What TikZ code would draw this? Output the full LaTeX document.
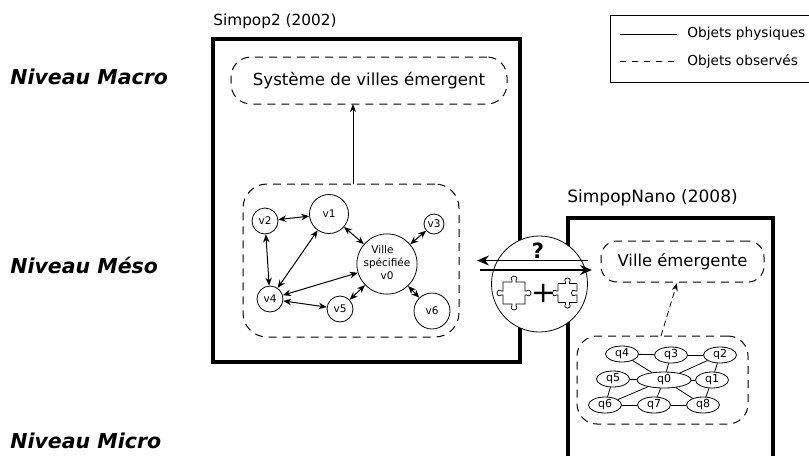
\documentclass[tikz,border=0pt]{standalone}
\usepackage{fontspec}
\setmainfont{DejaVu Sans}
\usetikzlibrary{arrows.meta, shapes.geometric}

\begin{document}
\begin{tikzpicture}[x=1pt, y=-1pt, line width=0.8pt]
\tikzstyle{level label}=[anchor=west, inner sep=0pt, font=\fontsize{20.5}{24}\selectfont\bfseries\itshape];
\tikzstyle{model label}=[anchor=west, inner sep=0pt, font=\fontsize{15.3}{18}\selectfont];
\tikzstyle{legend label}=[anchor=west, inner sep=0pt, font=\fontsize{13.7}{16}\selectfont];
\tikzstyle{model box}=[line width=4pt, line join=miter];
\tikzstyle{observed}=[draw, line width=1pt, rounded corners=20pt, dash pattern=on 8pt off 6pt, inner sep=0pt];
\tikzstyle{city}=[circle, draw, fill=white, inner sep=0pt, font=\fontsize{10.5}{12}\selectfont];
\tikzstyle{quarter}=[ellipse, draw, fill=white, inner sep=0pt, minimum width=33pt, minimum height=16pt, font=\fontsize{11}{12}\selectfont];
\tikzstyle{exchange}=[line width=1.2pt, -{Stealth[length=12pt, width=10pt]}];
\tikzstyle{city link}=[line width=1pt, {Stealth[length=8pt, width=6.5pt]}-{Stealth[length=8pt, width=6.5pt]}];
\tikzstyle{emerge}=[-{Stealth[length=8pt, width=6pt]}];

\useasboundingbox (0,0) rectangle (809,456);

% Levels
\node[level label] (macro) at (10,77) {Niveau Macro};
\node[level label] (meso) at (10,265) {Niveau Méso};
\node[level label] (micro) at (10,441) {Niveau Micro};

% Legend
\draw[line width=0.9pt] (809,15) -- (610,15) -- (610,82) -- (809,82);
\coordinate (solidA) at (620,34);
\coordinate (solidB) at (677,34);
\coordinate (dashA) at (620,61);
\coordinate (dashB) at (677,61);
\draw (solidA) -- (solidB);
\draw[dash pattern=on 6pt off 6pt] (dashA) -- (dashB);
\node[legend label] (physical) at (687,34) {Objets physiques};
\node[legend label] (observedtext) at (687,61) {Objets observés};

% Simpop2
\node[model label] (simpoptitle) at (213,21) {Simpop2 (2002)};
\draw[model box] (213,39) rectangle (520,362);
\node[observed, minimum width=276pt, minimum height=47pt, font=\fontsize{16.6}{20}\selectfont] (system) at (369,80.5) {Système de villes émergent};
\node[observed, minimum width=216pt, minimum height=153pt, rounded corners=24pt] (cities) at (351,260.5) {};
\coordinate (citiesTop) at (353,184);
\coordinate (systemBottom) at (353,104);
\draw[emerge] (citiesTop) -- (systemBottom);

\node[city, minimum size=58pt] (v0) at (387,264) {\begin{tabular}{@{}c@{}}Ville\hspace*{9pt}\\[1pt]spécifiée\\[1pt]v0\end{tabular}};
\node[city, minimum size=39pt] (v1) at (329,214) {v1};
\node[city, minimum size=26pt] (v2) at (265,221) {v2};
\node[city, minimum size=20pt] (v3) at (434,224) {v3};
\node[city, minimum size=26pt] (v4) at (270,299) {v4};
\node[city, minimum size=26pt] (v5) at (340,309) {v5};
\node[city, minimum size=36pt] (v6) at (432,311) {v6};

\foreach \a/\b in {v1/v2, v1/v0, v1/v4, v2/v4, v0/v3, v0/v4, v0/v5, v0/v6, v4/v5}
    \draw[city link] (\a) -- (\b);

% SimpopNano
\node[model label, font=\fontsize{17}{20}\selectfont] (nanotitle) at (567,198) {SimpopNano (2008)};
\draw[model box] (567.5,456) -- (567.5,218) -- (773,218) -- (773,456);
\node[observed, minimum width=163pt, minimum height=41pt, rounded corners=16pt, font=\fontsize{16.4}{20}\selectfont] (city) at (682.5,261.5) {Ville émergente};
\node[observed, minimum width=171pt, minimum height=88pt, rounded corners=20pt] (quarters) at (662.5,380) {};
\coordinate (quartersTop) at (661,336);
\coordinate (cityBottom) at (677,283);
\draw[emerge, dash pattern=on 6pt off 4pt] (quartersTop) -- (cityBottom);

\node[quarter, minimum width=54pt] (q0) at (664,380) {q0};
\node[quarter] (q1) at (712,380) {q1};
\node[quarter] (q2) at (720,355) {q2};
\node[quarter] (q3) at (671,355) {q3};
\node[quarter] (q4) at (622,354) {q4};
\node[quarter] (q5) at (613,379) {q5};
\node[quarter] (q6) at (605,405) {q6};
\node[quarter] (q7) at (654,405) {q7};
\node[quarter] (q8) at (703,405) {q8};

\foreach \a/\b in {q4/q3, q3/q2, q4/q0, q3/q0, q2/q0, q2/q1, q5/q0, q0/q1, q5/q6, q6/q0, q0/q7, q0/q8, q1/q8, q6/q7, q7/q8}
    \draw (\a) -- (\b);

% Link between the two models
\node[circle, draw, fill=white, minimum size=96pt, inner sep=0pt] (bridge) at (539.5,284) {};
\node[inner sep=0pt, font=\fontsize{21}{24}\selectfont\bfseries] (question) at (538,251) {?};
\coordinate (upA) at (588,260.5);
\coordinate (upB) at (477,260.5);
\coordinate (downA) at (480,270);
\coordinate (downB) at (592,270);
\draw[exchange] (upA) -- (upB);
\draw[exchange] (downA) -- (downB);
\node[inner sep=0pt, font=\fontsize{29}{32}\selectfont] (plus) at (544,293) {+};

\foreach \r in {0,90,180,270}
    \draw[shift={(514,293)}, rotate=\r, line width=0.7pt] (-11,-11) -- (-2,-11) -- (-2,-12.5) .. controls (-6,-18.5) and (6,-18.5) .. (2,-12.5) -- (2,-11) -- (11,-11);
\foreach \r in {0,90,180}
    \draw[shift={(567.5,293)}, rotate=\r, line width=0.7pt] (-9.5,-9.5) -- (-2,-9.5) -- (-2,-11) .. controls (-5.5,-16.5) and (5.5,-16.5) .. (2,-11) -- (2,-9.5) -- (9.5,-9.5);
\draw[shift={(567.5,293)}, rotate=270, line width=0.7pt] (-9.5,-9.5) -- (-2,-9.5) -- (-2,-8) .. controls (-5.5,-2.5) and (5.5,-2.5) .. (2,-8) -- (2,-9.5) -- (9.5,-9.5);

\end{tikzpicture}
\end{document}
